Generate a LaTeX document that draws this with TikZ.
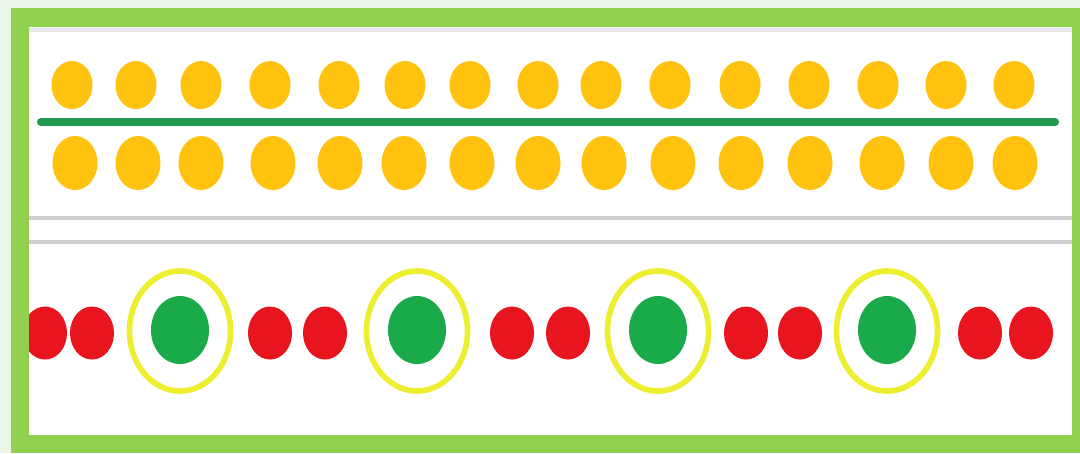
\documentclass[tikz,border=0pt]{standalone}
\usepackage{xcolor}
\usepackage{tikz}
\definecolor{framegreen}{HTML}{92D050}
\definecolor{haze}{HTML}{ECF6E8}
\definecolor{gold}{HTML}{FFC20E}
\definecolor{darkline}{HTML}{1F9A4E}
\definecolor{dotred}{HTML}{E8141E}
\definecolor{dotgreen}{HTML}{1BAA4A}
\definecolor{ringyellow}{HTML}{EEEE30}
\definecolor{rule}{HTML}{CFCFD2}
\tikzset{
    topdot/.style={fill=gold},
    botdot/.style={fill=gold},
    reddot/.style={fill=dotred},
    greendot/.style={fill=dotgreen},
    ring/.style={draw=ringyellow, line width=1.6pt},
    divider/.style={draw=rule, line width=0.9pt},
    midline/.style={draw=darkline, line width=2.3pt, line cap=round},
}

\begin{document}
\begin{tikzpicture}[x=0.01cm, y=-0.01cm]
    \useasboundingbox (0,0) rectangle (1080,453);
    % Frame
    \fill[haze] (0,0) rectangle (1080,453);
    \fill[framegreen] (11,8) rectangle (1080,453);
    \fill[white] (29,27) rectangle (1072,435);

    \begin{scope}
    \clip (29,27) rectangle (1072,435);
    % Band lines
    \draw[divider, draw=rule!50] (29,30) -- (1072,30);
    \draw[divider] (29,218) -- (1072,218);
    \draw[divider] (29,242) -- (1072,242);

    % Top row
    \foreach \x in {72,136,201,270,339,405,470,538,601,670,740,809,878,946,1014}
        \fill[topdot] (\x,85) ellipse [x radius=0.205cm, y radius=0.24cm];

    % Middle line
    \draw[midline] (41,122) -- (1055,122);

    % Bottom row
    \foreach \x in {75,138,201,273,340,404,472,538,604,673,741,810,882,951,1015}
        \fill[botdot] (\x,163) ellipse [x radius=0.225cm, y radius=0.27cm];

    % Red pairs
    \foreach \x in {45,92,270,325,512,568,746,800,980,1031}
        \fill[reddot] (\x,333) ellipse [x radius=0.22cm, y radius=0.265cm];

    % Green dots with rings
    \foreach \x in {180,417,658,887}{
        \draw[ring] (\x,331) ellipse [x radius=0.505cm, y radius=0.6cm];
        \fill[greendot] (\x,330) ellipse [x radius=0.29cm, y radius=0.34cm];
    }
    \end{scope}
\end{tikzpicture}
\end{document}
